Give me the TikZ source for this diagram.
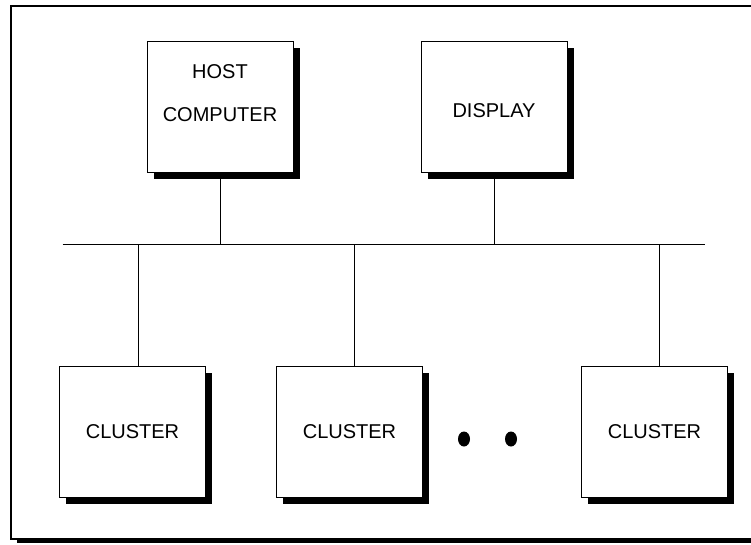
\documentclass[tikz,border=0pt]{standalone}
\usepackage{fontspec}
\setmainfont{Liberation Sans}
\usetikzlibrary{shadows,positioning}

\begin{document}
\begin{tikzpicture}[x=1pt, y=-1pt,
                    every node/.append style = {font=\fontsize{20}{43}\selectfont},
                    unit/.style = {draw, line width=1pt, fill=white, inner sep=0pt, align=center,
                                   minimum width=146pt, minimum height=131pt,
                                   drop shadow={shadow xshift=6.5pt, shadow yshift=-6.5pt, fill=black, opacity=1}},
                    frame/.style = {line width=1.5pt, fill=white,
                                    drop shadow={shadow xshift=6pt, shadow yshift=-3.5pt, fill=black, opacity=1}},
                    bus/.style = {line width=1.6pt},
                    wire/.style = {line width=1pt}]
                \useasboundingbox (0,0) rectangle (751,544);
                \draw[frame] (11,6) rectangle (760,539);
                % top row
                \node[unit, text depth=26pt] (host) at (220,106.5) {HOST\\COMPUTER};
                \node[unit, text height=22pt] (disp) at (494,107) {DISPLAY};
                % clusters
                \node[unit] (c1) at (132.5,431.5) {CLUSTER};
                \node[unit] (c2) at (349.5,432) {CLUSTER};
                \node[unit] (c3) at (654.5,431.5) {CLUSTER};
                % bus
                \coordinate (busL) at (62.5,244.5);
                \coordinate (busR) at (705,244.5);
                \coordinate (t1) at (138.5,244.5);
                \coordinate (t2) at (354.5,244.5);
                \coordinate (t3) at (659,244.5);
                \draw[bus] (busL) -- (busR);
                \draw[wire] (host) -- (host |- busL);
                \draw[wire] (disp) -- (disp |- busL);
                \draw[wire] (t1) -- (t1 |- c1.north);
                \draw[wire] (t2) -- (t2 |- c2.north);
                \draw[wire] (t3) -- (t3 |- c3.north);
                % more clusters
                \fill (464,439) ellipse [x radius=6pt, y radius=7.5pt];
                \fill (511,439) ellipse [x radius=6pt, y radius=7.5pt];
                \end{tikzpicture}
\end{document}
